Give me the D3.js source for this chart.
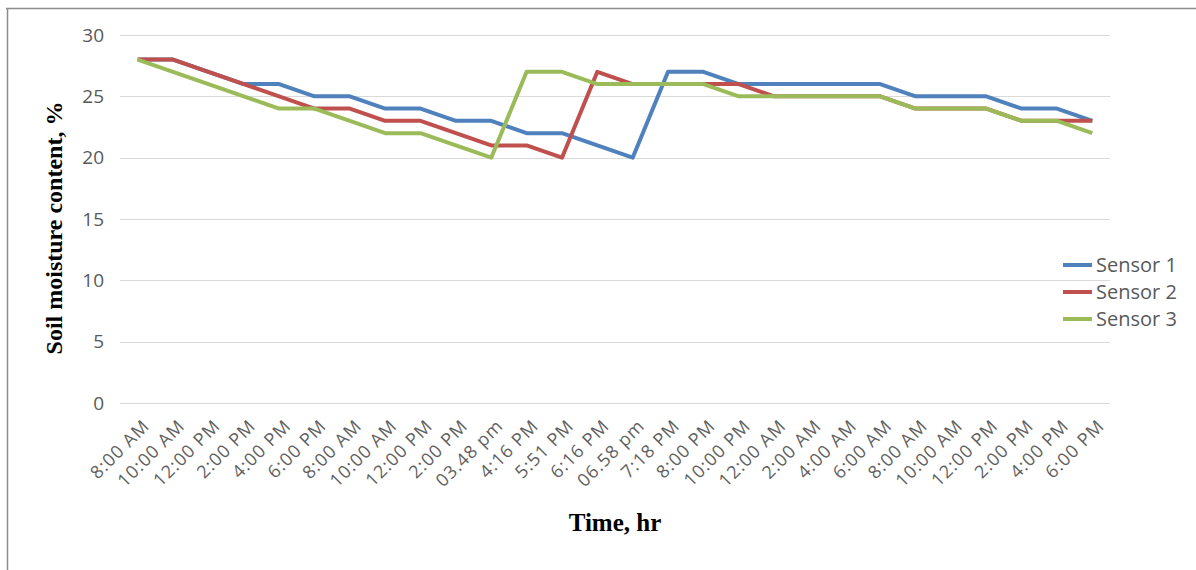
<!DOCTYPE html>
<html><head><meta charset="utf-8">
<script src="https://cdn.jsdelivr.net/npm/d3@7"></script>
<style>body{margin:0;background:#fff;} svg{display:block;}</style>
</head><body>
<svg id="chart" width="1196" height="570"></svg>
<script>
const categories = ["8:00 AM","10:00 AM","12:00 PM","2:00 PM","4:00 PM","6:00 PM","8:00 AM","10:00 AM","12:00 PM","2:00 PM","03.48 pm","4:16 PM","5:51 PM","6:16 PM","06.58 pm","7:18 PM","8:00 PM","10:00 PM","12:00 AM","2:00 AM","4:00 AM","6:00 AM","8:00 AM","10:00 AM","12:00 PM","2:00 PM","4:00 PM","6:00 PM"];
const sensor1 = [28,28,27,26,26,25,25,24,24,23,23,22,22,21,20,27,27,26,26,26,26,26,25,25,25,24,24,23];
const sensor2 = [28,28,27,26,25,24,24,23,23,22,21,21,20,27,26,26,26,26,25,25,25,25,24,24,24,23,23,23];
const sensor3 = [28,27,26,25,24,24,23,22,22,21,20,27,27,26,26,26,26,25,25,25,25,25,24,24,24,23,23,22];
const seriesNames = ["Sensor 1","Sensor 2","Sensor 3"];
const seriesColors = ["#4F81BD","#C0504D","#9BBB59"];
const yTicks = [0,5,10,15,20,25,30];

(function(){
const series = [sensor1, sensor2, sensor3];
const svg = d3.select("#chart");
const sans = "'Open Sans', 'Liberation Sans', sans-serif";
const serif = "'Liberation Serif', 'Times New Roman', serif";

// border (top & left visible)
svg.append("line").attr("x1",6).attr("x2",1196).attr("y1",8.5).attr("y2",8.5).attr("stroke","#8c8c8c").attr("stroke-width",1.5);
svg.append("line").attr("x1",7.5).attr("x2",7.5).attr("y1",8).attr("y2",570).attr("stroke","#8c8c8c").attr("stroke-width",1.5);

const pLeft = 120, pRight = 1110, pTop = 35, pBottom = 403;
const x = d3.scaleBand().domain(d3.range(categories.length)).range([pLeft, pRight]);
const y = d3.scaleLinear().domain([0,30]).range([pBottom, pTop]);
const cx = i => x(i) + x.bandwidth()/2;

// gridlines
svg.append("g").selectAll("line").data(yTicks).join("line")
  .attr("x1",pLeft).attr("x2",pRight)
  .attr("y1",d=>Math.round(y(d))+0.5).attr("y2",d=>Math.round(y(d))+0.5)
  .attr("stroke","#d9d9d9").attr("stroke-width",1.2);

// y axis labels
const yAxis = d3.axisLeft(y).tickValues(yTicks).tickSize(0).tickPadding(0);
const gy = svg.append("g").attr("transform",`translate(${104},0)`).call(yAxis);
gy.select(".domain").remove();
gy.selectAll("text").attr("font-family",sans).attr("font-size",19).attr("fill","#595959");

// x axis labels
const xAxis = d3.axisBottom(x).tickFormat(i=>categories[i]).tickSize(0).tickPadding(0);
const gx = svg.append("g").attr("transform",`translate(0,${pBottom})`).call(xAxis);
gx.select(".domain").remove();
gx.selectAll("text")
  .attr("font-family",sans).attr("font-size",18).attr("fill","#5f5f5f")
  .attr("letter-spacing","1px")
  .attr("text-anchor","end").attr("dy",null).attr("y",0)
  .attr("transform","translate(13,24) rotate(-45)");

// lines
const line = d3.line().x((d,i)=>cx(i)).y(d=>y(d));
svg.append("g").selectAll("path").data(series).join("path")
  .attr("d",d=>line(d)).attr("fill","none")
  .attr("stroke",(d,i)=>seriesColors[i]).attr("stroke-width",4)
  .attr("stroke-linejoin","round").attr("stroke-linecap","butt");

// axis titles
svg.append("text").attr("x",615).attr("y",531).attr("text-anchor","middle")
  .attr("font-family",serif).attr("font-weight","bold").attr("font-size",25)
  .attr("fill","#000").text("Time, hr");
svg.append("text").attr("transform","translate(62,228) rotate(-90)").attr("text-anchor","middle")
  .attr("font-family",serif).attr("font-weight","bold").attr("font-size",24)
  .attr("fill","#000").text("Soil moisture content, %");

// legend
const lg = svg.append("g").selectAll("g").data(seriesNames).join("g")
  .attr("transform",(d,i)=>`translate(1063,${265 + i*27})`);
lg.append("line").attr("x1",0).attr("x2",29).attr("y1",0).attr("y2",0)
  .attr("stroke",(d,i)=>seriesColors[i]).attr("stroke-width",4);
lg.append("text").attr("x",33).attr("y",0).attr("dy","0.35em")
  .attr("font-family",sans).attr("font-size",20).attr("fill","#595959")
  .text(d=>d);
})();
</script>
</body></html>
